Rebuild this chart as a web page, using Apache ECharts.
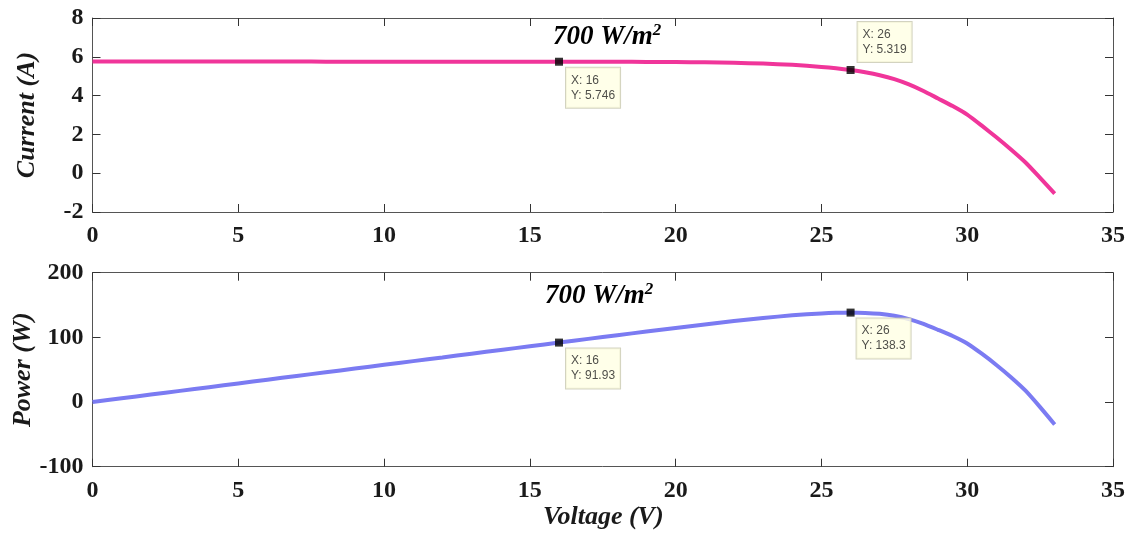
<!DOCTYPE html>
<html><head><meta charset="utf-8">
<script src="https://cdn.jsdelivr.net/npm/echarts@6/dist/echarts.min.js"></script>
<style>html,body{margin:0;padding:0;background:#fff}#c{width:1134px;height:540px}</style>
</head><body><div id="c"></div>
<script>
// Data
const voltage = [0,1,2,3,4,5,6,7,8,9,10,11,12,13,14,15,16,17,18,19,20,21,22,23,24,25,25.5,26,26.5,27,27.5,28,28.5,29,29.5,30,30.5,31,31.5,32,32.5,33];
const current = [5.755,5.755,5.754,5.754,5.753,5.753,5.752,5.752,5.751,5.751,5.750,5.750,5.749,5.749,5.748,5.747,5.746,5.744,5.741,5.736,5.728,5.714,5.69,5.65,5.585,5.48,5.41,5.319,5.2,5.05,4.85,4.58,4.24,3.85,3.46,3.02,2.45,1.85,1.22,0.55,-0.24,-1.05];
const power = [0,5.76,11.51,17.26,23.01,28.77,34.51,40.26,46.01,51.76,57.5,63.25,68.99,74.74,80.47,86.21,91.93,97.65,103.34,108.98,114.56,119.99,125.18,129.95,134.04,137.0,137.96,138.3,137.8,136.35,133.38,128.24,120.84,111.65,102.07,90.6,74.73,57.35,38.43,17.6,-7.8,-34.65];
const currentTips = [[16,5.746],[26,5.319]];
const powerTips = [[16,91.93],[26,138.3]];
const xTicks = {min:0,max:35,interval:5};
const yTopTicks = {min:-2,max:8,interval:2};
const yBotTicks = {min:-100,max:200,interval:100};
const annotation = '700 W/m';

const serif = '"Liberation Serif","DejaVu Serif",serif';
const axisColor = '#555';
const lblStyle = {fontFamily:serif,fontWeight:'bold',fontSize:24,color:'#1a1a1a'};

function xAx(gi, pos, labels) {
  return Object.assign({type:'value',gridIndex:gi,position:pos}, xTicks, {
    axisLine:{show:true,onZero:false,lineStyle:{color:axisColor,width:1}},
    axisTick:{show:true,inside:true,length:8,lineStyle:{color:'#333'}},
    axisLabel:Object.assign({show:labels,margin:12}, lblStyle),
    splitLine:{show:false}
  });
}
function yAx(gi, pos, labels, t, name, gap) {
  return Object.assign({type:'value',gridIndex:gi,position:pos}, t, {
    name: labels ? name : '', nameLocation:'middle', nameGap:gap || 52, nameRotate:90,
    nameMoveOverlap:false,
    nameTextStyle:{fontFamily:serif,fontWeight:'bold',fontStyle:'italic',fontSize:26,color:'#1a1a1a'},
    axisLine:{show:true,onZero:false,lineStyle:{color:axisColor,width:1}},
    axisTick:{show:true,inside:true,length:8,lineStyle:{color:'#333'}},
    axisLabel:Object.assign({show:labels,margin:9}, lblStyle),
    splitLine:{show:false}
  });
}
const tipLabel = (posArr) => ({
  show:true,
  formatter: p => 'X: ' + p.value[0] + '\nY: ' + p.value[1],
  position: posArr,
  fontFamily:'"Liberation Sans",Arial,sans-serif', fontSize:12, lineHeight:15, color:'#222',
  backgroundColor:'#ffffe3', borderColor:'#c8c8b0', borderWidth:1, padding:[5,5,5,5], align:'left'
});

const rich = {
  a:{fontFamily:serif,fontWeight:'bold',fontStyle:'italic',fontSize:27,color:'#111',lineHeight:30},
  s:{fontFamily:serif,fontWeight:'bold',fontStyle:'italic',fontSize:17,color:'#111',verticalAlign:'top',lineHeight:30,padding:[0,0,16,0]}
};

const chart = echarts.init(document.getElementById('c'));
chart.setOption({
  animation:false,
  grid:[
    {left:92.5,right:21,top:18,height:194,containLabel:false,outerBoundsMode:'none'},
    {left:92.5,right:21,top:272.7,height:194,containLabel:false,outerBoundsMode:'none'}
  ],
  graphic:[
    {type:'text',left:553,top:22,style:{text:'{a|'+annotation+'}{s|2}',rich:rich}},
    {type:'text',left:545,top:281,style:{text:'{a|'+annotation+'}{s|2}',rich:rich}},
    {type:'text',left:543,top:504,style:{text:'Voltage (V)',fontFamily:serif,fontWeight:'bold',fontStyle:'italic',fontSize:26,fill:'#1a1a1a'}}
  ],
  xAxis:[xAx(0,'bottom',true),xAx(0,'top',false),xAx(1,'bottom',true),xAx(1,'top',false)],
  yAxis:[yAx(0,'left',true,yTopTicks,'Current (A)',52),yAx(0,'right',false,yTopTicks,''),
         yAx(1,'left',true,yBotTicks,'Power (W)',56),yAx(1,'right',false,yBotTicks,'')],
  series:[
    {type:'line',xAxisIndex:0,yAxisIndex:0,showSymbol:false,smooth:0.2,
     data:voltage.map((v,i)=>[v,current[i]]),lineStyle:{color:'#f0359a',width:4}},
    {type:'line',xAxisIndex:2,yAxisIndex:2,showSymbol:false,smooth:0.2,
     data:voltage.map((v,i)=>[v,power[i]]),lineStyle:{color:'#7b7bf2',width:4}},
    {type:'scatter',xAxisIndex:0,yAxisIndex:0,symbol:'rect',symbolSize:8,itemStyle:{color:'#000'},z:5,
     data:[{value:currentTips[0],label:tipLabel([11,10])},{value:currentTips[1],label:tipLabel([11,-44])}]},
    {type:'scatter',xAxisIndex:2,yAxisIndex:2,symbol:'rect',symbolSize:8,itemStyle:{color:'#000'},z:5,
     data:[{value:powerTips[0],label:tipLabel([11,10])},{value:powerTips[1],label:tipLabel([10,10])}]}
  ]
});
</script></body></html>
